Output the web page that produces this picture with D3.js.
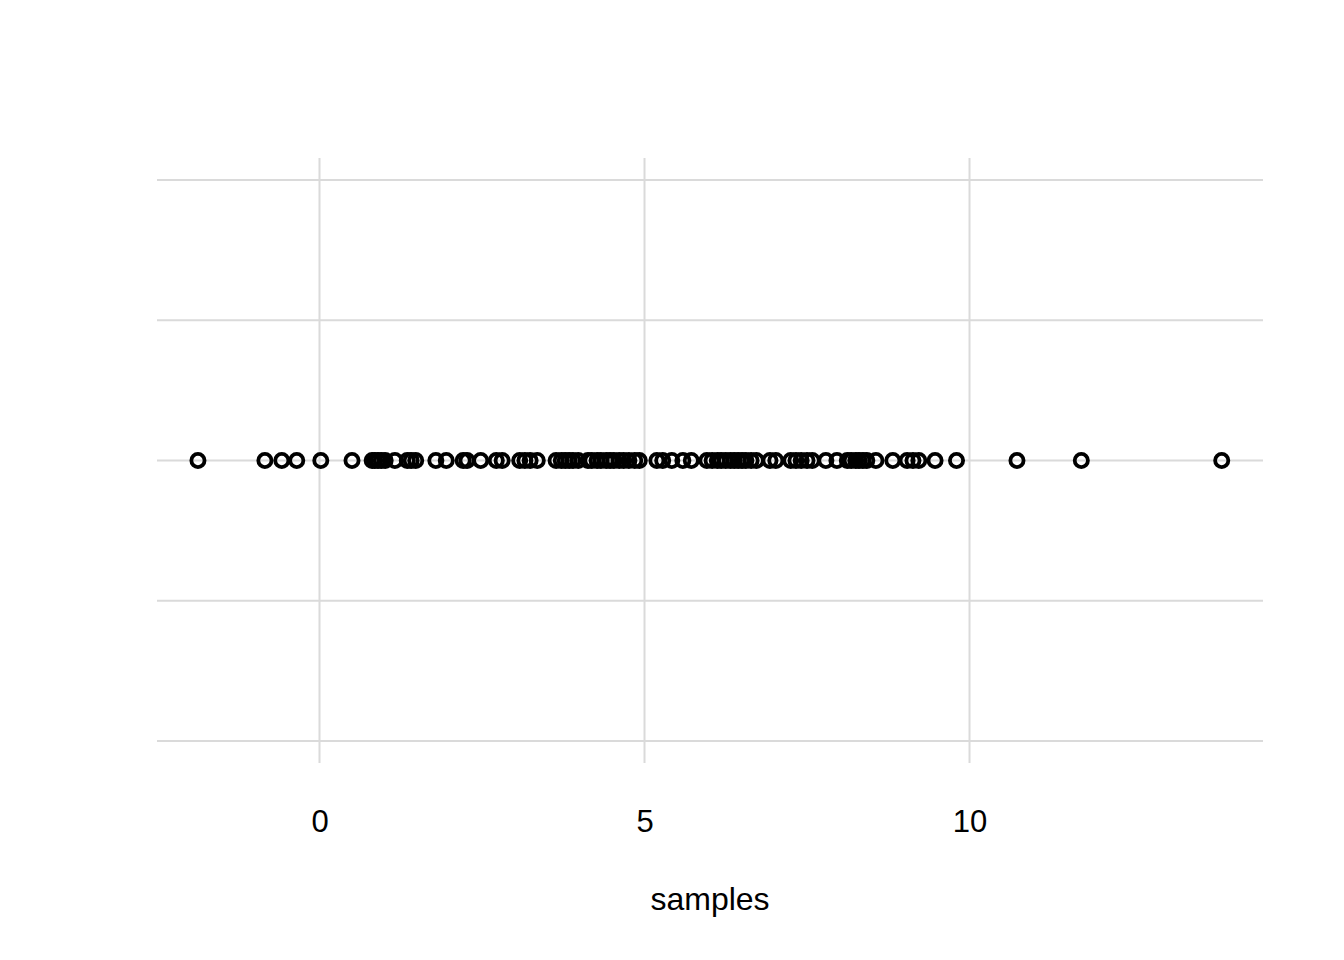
<!DOCTYPE html>
<html>
<head>
<meta charset="utf-8">
<script src="https://cdn.jsdelivr.net/npm/d3@7"></script>
<style>
  body { margin: 0; background: #fff; }
  text { font-family: "Liberation Sans", Arial, sans-serif; }
</style>
</head>
<body>
<div id="chart"></div>
<script>
// sample values
var samples = [-1.87, -0.84, -0.58, -0.35, 0.02, 0.50, 0.81, 0.85, 0.90, 0.95,
  1.01, 1.16, 1.35, 1.41, 1.48, 1.79, 1.95, 2.21, 2.27, 2.48,
  2.72, 2.81, 3.08, 3.16, 3.24, 3.35, 3.64, 3.72, 3.78, 3.84,
  3.90, 3.98, 4.13, 4.19, 4.27, 4.33, 4.41, 4.47, 4.53, 4.61,
  4.68, 4.76, 4.85, 4.92, 5.19, 5.28, 5.42, 5.59, 5.72, 5.96,
  6.04, 6.12, 6.18, 6.25, 6.32, 6.38, 6.44, 6.50, 6.56, 6.64,
  6.72, 6.93, 7.02, 7.25, 7.33, 7.41, 7.50, 7.58, 7.79, 7.96,
  8.12, 8.18, 8.25, 8.30, 8.36, 8.42, 8.56, 8.82, 9.04, 9.13,
  9.22, 9.47, 9.80, 10.73, 11.72, 13.88];
var xTicks = [0, 5, 10];
var yBreaks = [-0.05, -0.025, 0, 0.025, 0.05];
var xLabel = "samples";

var width = 1344, height = 960;
var panel = {left: 157, right: 1263, top: 158, bottom: 763};

var svg = d3.select("#chart").append("svg")
  .attr("width", width)
  .attr("height", height);

var x = d3.scaleLinear()
  .domain([-2.5, 14.515])
  .range([panel.left, panel.right]);

var y = d3.scaleLinear()
  .domain([-0.0539, 0.0539])
  .range([panel.bottom, panel.top]);

// grid
svg.append("g").selectAll("line.h")
  .data(yBreaks)
  .enter().append("line")
    .attr("x1", panel.left).attr("x2", panel.right)
    .attr("y1", d => y(d)).attr("y2", d => y(d))
    .attr("stroke", "#dadada")
    .attr("stroke-width", 2);

svg.append("g").selectAll("line.v")
  .data(xTicks)
  .enter().append("line")
    .attr("x1", d => x(d)).attr("x2", d => x(d))
    .attr("y1", panel.top).attr("y2", panel.bottom)
    .attr("stroke", "#dadada")
    .attr("stroke-width", 2);

// points
svg.append("g").selectAll("circle")
  .data(samples)
  .enter().append("circle")
    .attr("cx", d => x(d))
    .attr("cy", y(0))
    .attr("r", 6.6)
    .attr("fill", "none")
    .attr("stroke", "#000")
    .attr("stroke-width", 3.8);

// x axis labels
var xAxis = d3.axisBottom(x).tickValues(xTicks).tickSize(0).tickPadding(0);
var ax = svg.append("g")
  .attr("transform", "translate(0," + 832 + ")")
  .call(xAxis);
ax.select(".domain").remove();
ax.selectAll("text")
  .attr("dy", 0)
  .attr("y", 0)
  .style("font-size", "31px")
  .attr("fill", "#000")
  .style("font-family", '"Liberation Sans", Arial, sans-serif');

svg.append("text")
  .attr("x", (panel.left + panel.right) / 2)
  .attr("y", 910)
  .attr("text-anchor", "middle")
  .style("font-size", "32px")
  .attr("fill", "#000")
  .text(xLabel);
</script>
</body>
</html>
